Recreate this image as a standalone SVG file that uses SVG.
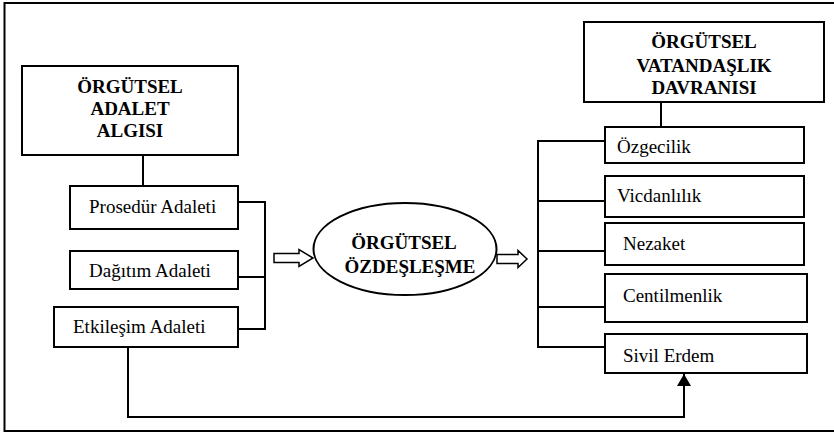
<svg xmlns="http://www.w3.org/2000/svg" width="834" height="433" viewBox="0 0 834 433">
<defs>
<style>
.box{fill:#fff;stroke:#000;stroke-width:2}
.ln{fill:none;stroke:#000;stroke-width:2}
.b{font-weight:bold;text-anchor:middle}
</style>
<marker id="ah" markerWidth="12" markerHeight="14" refX="12" refY="7" orient="auto" markerUnits="userSpaceOnUse" viewBox="0 0 12 14">
<path d="M0,0 L12,7 L0,14 Z" fill="#000"/>
</marker>
</defs>
<rect width="834" height="433" fill="#fff"/>
<path d="M834,3 H4.5 V431 H834" fill="none" stroke="#000" stroke-width="2"/>
<g id="connectors">
<path class="ln" d="M143,155 V186"/>
<path class="ln" d="M238,202 H265 V329 H238 M238,277 H265"/>
<path class="ln" d="M661,102 V127"/>
<path class="ln" d="M605,141 H538 V347 H605 M538,201 H605 M538,251 H605 M538,307 H605"/>
<path class="ln" d="M128,347 V417 H684 V374" marker-end="url(#ah)"/>
<path d="M274,253.5 H299 V249.5 L313,258 L299,266.5 V262.5 H274 Z" fill="#fff" stroke="#000" stroke-width="1.5"/>
<path d="M497,254.5 H518 V250.5 L527,259 L518,267.5 V263.5 H497 Z" fill="#fff" stroke="#000" stroke-width="1.5"/>
</g>
<g font-family="Liberation Serif, Times New Roman, DejaVu Serif, serif" font-size="19" fill="#000">
<g id="adalet">
<rect class="box" x="22" y="66" width="216" height="89"/>
<text class="b" x="130" y="93">ÖRGÜTSEL</text>
<text class="b" x="130" y="115">ADALET</text>
<text class="b" x="130" y="137">ALGISI</text>
</g>
<g id="prosedur">
<rect class="box" x="70" y="186" width="168" height="43"/>
<text x="89" y="213">Prosedür Adaleti</text>
</g>
<g id="dagitim">
<rect class="box" x="70" y="251" width="168" height="38"/>
<text x="89" y="277">Dağıtım Adaleti</text>
</g>
<g id="etkilesim">
<rect class="box" x="54" y="307" width="184" height="40"/>
<text x="73" y="333">Etkileşim Adaleti</text>
</g>
<g id="ozdeslesme">
<ellipse class="box" cx="405" cy="249" rx="91.5" ry="46"/>
<text class="b" x="404" y="249">ÖRGÜTSEL</text>
<text class="b" x="410" y="273">ÖZDEŞLEŞME</text>
</g>
<g id="ovd">
<rect class="box" x="584" y="22" width="240" height="80"/>
<text class="b" x="704" y="48">ÖRGÜTSEL</text>
<text class="b" x="704" y="72">VATANDAŞLIK</text>
<text class="b" x="704" y="94">DAVRANISI</text>
</g>
<g id="ozgecilik">
<rect class="box" x="605" y="127" width="199" height="36"/>
<text x="617" y="153">Özgecilik</text>
</g>
<g id="vicdanlilik">
<rect class="box" x="605" y="176" width="199" height="41"/>
<text x="617" y="202">Vicdanlılık</text>
</g>
<g id="nezaket">
<rect class="box" x="605" y="223" width="199" height="42"/>
<text x="623" y="250">Nezaket</text>
</g>
<g id="centilmenlik">
<rect class="box" x="605" y="274" width="202" height="48"/>
<text x="623" y="302">Centilmenlik</text>
</g>
<g id="sivil">
<rect class="box" x="605" y="334" width="202" height="39"/>
<text x="623" y="362">Sivil Erdem</text>
</g>
</g>
</svg>
